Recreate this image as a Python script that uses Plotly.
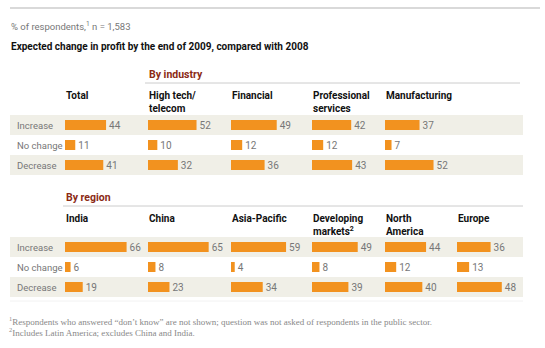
import plotly.graph_objects as go

rows = ["Increase", "No change", "Decrease"]

industry_cols = ["Total", "High tech/<br>telecom", "Financial", "Professional<br>services", "Manufacturing"]
industry_increase = [44, 52, 49, 42, 37]
industry_nochange = [11, 10, 12, 12, 7]
industry_decrease = [41, 32, 36, 43, 52]

region_cols = ["India", "China", "Asia-Pacific", "Developing<br>markets<sup>2</sup>", "North<br>America", "Europe"]
region_increase = [66, 65, 59, 49, 44, 36]
region_nochange = [6, 8, 4, 8, 12, 13]
region_decrease = [19, 23, 34, 39, 40, 48]

W, H = 545, 348
FONT = "Roboto, Liberation Sans, sans-serif"
ORANGE = "#F2921F"
BAND = "#F0EFE7"
LABEL = "#777777"
DARKRED = "#8B2A14"


def px(x):
    return x / W


def py(y):
    return 1 - y / H


def f(size, color, family=FONT):
    return dict(family=family, size=size, color=color)


fig = go.Figure()
layout = {}

col_x_ind = [65, 148, 231, 312, 385]
col_x_reg = [65, 148, 231, 312, 385, 457]
COLW = 70
XMAX = 75

sections = [
    ("y", (115, 175), col_x_ind, industry_cols, [industry_increase, industry_nochange, industry_decrease], 88),
    ("y2", (237, 297), col_x_reg, region_cols, [region_increase, region_nochange, region_decrease], 211),
]

annotations = []
shapes = []
axis_n = 1
for yname, (ytop, ybot), colx, cols, series, head_y in sections:
    ykey = "yaxis" if yname == "y" else "yaxis" + yname[1:]
    layout[ykey] = dict(domain=[py(ybot), py(ytop)], range=[2.5, -0.5], type="category",
                        categoryorder="array", categoryarray=rows, visible=False, fixedrange=True)
    for r in (0, 2):
        shapes.append(dict(type="rect", xref="paper", yref=yname, x0=px(10), x1=px(523),
                           y0=r - 0.5, y1=r + 0.5, fillcolor=BAND, line=dict(width=0), layer="below"))
    for r, lab in enumerate(rows):
        annotations.append(dict(text=lab, xref="paper", yref=yname, x=px(15), y=lab, xanchor="left",
                                yanchor="middle", showarrow=False, font=f(9.5, LABEL)))
    for i, (x0, name) in enumerate(zip(colx, cols)):
        xkey = "x" if axis_n == 1 else f"x{axis_n}"
        xlay = "xaxis" if axis_n == 1 else f"xaxis{axis_n}"
        layout[xlay] = dict(domain=[px(x0), px(x0 + COLW)], range=[0, XMAX], visible=False,
                            anchor=yname, fixedrange=True)
        vals = [s[i] for s in series]
        fig.add_trace(go.Bar(x=vals, y=rows, orientation="h", xaxis=xkey, yaxis=yname,
                             marker=dict(color=ORANGE, line=dict(width=0)), width=0.5,
                             text=[str(v) for v in vals], textposition="outside", cliponaxis=False,
                             constraintext="none",
                             textfont=f(10, LABEL), hoverinfo="skip",
                             showlegend=False))
        annotations.append(dict(text="<b>" + name + "</b>", xref="paper", yref="paper", x=px(x0 - 1),
                                y=py(head_y), xanchor="left", yanchor="top", align="left", showarrow=False,
                                font=f(10, "#111111")))
        axis_n += 1

annotations.append(dict(text="<b>By industry</b>", xref="paper", yref="paper", x=px(147), y=py(74),
                        xanchor="left", yanchor="middle", showarrow=False, font=f(10.5, DARKRED)))
annotations.append(dict(text="<b>By region</b>", xref="paper", yref="paper", x=px(64), y=py(197),
                        xanchor="left", yanchor="middle", showarrow=False, font=f(10.5, DARKRED)))
shapes.append(dict(type="line", xref="paper", yref="paper", x0=px(10), x1=px(540), y0=py(8), y1=py(8),
                   line=dict(color="#CCCCCC", width=1.5)))
shapes.append(dict(type="line", xref="paper", yref="paper", x0=px(145), x1=px(520), y0=py(83), y1=py(83),
                   line=dict(color="#CCCCCC", width=1)))
shapes.append(dict(type="line", xref="paper", yref="paper", x0=px(63), x1=px(523), y0=py(206), y1=py(206),
                   line=dict(color="#CCCCCC", width=1)))
shapes.append(dict(type="line", xref="paper", yref="paper", x0=px(10), x1=px(523), y0=py(301), y1=py(301),
                   line=dict(color="#F2F2F2", width=1)))

annotations.append(dict(text="% of respondents,<sup>1</sup> n = 1,583", xref="paper", yref="paper",
                        x=px(9), y=py(26), xanchor="left", yanchor="middle", showarrow=False,
                        font=f(9.5, "#777777")))
annotations.append(dict(text="<b>Expected change in profit by the end of 2009, compared with 2008</b>",
                        xref="paper", yref="paper", x=px(9), y=py(47), xanchor="left", yanchor="middle",
                        showarrow=False, font=f(10, "#111111")))
SERIF = "Liberation Serif, DejaVu Serif, serif"
annotations.append(dict(text="<sup>1</sup>Respondents who answered “don’t know” are not shown; question was not asked of respondents in the public sector.",
                        xref="paper", yref="paper", x=px(7), y=py(321), xanchor="left", yanchor="middle",
                        showarrow=False, font=f(9, "#888888", SERIF)))
annotations.append(dict(text="<sup>2</sup>Includes Latin America; excludes China and India.",
                        xref="paper", yref="paper", x=px(7), y=py(332), xanchor="left", yanchor="middle",
                        showarrow=False, font=f(9, "#888888", SERIF)))

fig.update_layout(width=W, height=H, margin=dict(l=0, r=0, t=0, b=0), paper_bgcolor="white",
                  plot_bgcolor="rgba(0,0,0,0)", annotations=annotations, shapes=shapes, bargap=0.5,
                  **layout)
fig.write_html("out.html", config={"displayModeBar": False})
